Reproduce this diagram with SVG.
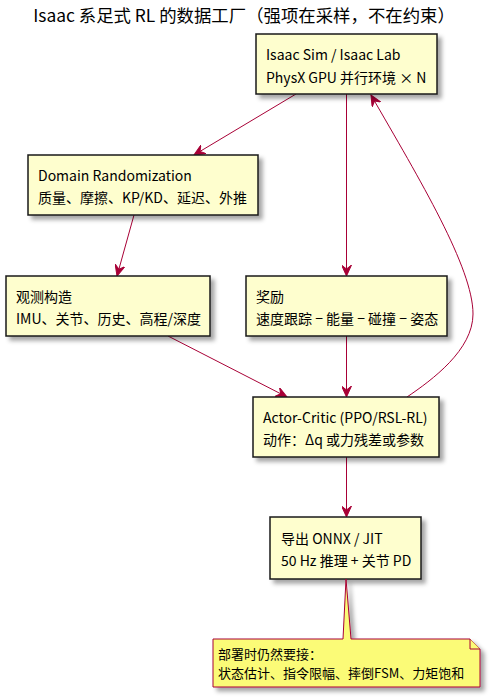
<svg xmlns="http://www.w3.org/2000/svg" width="491" height="697" viewBox="0 0 491 697">
<style>
text{font-family:"Noto Sans CJK SC","Noto Sans",sans-serif;font-size:14px;fill:#000}
.title{font-size:17.4px}
.nt{font-size:13px}
.box{fill:#FEFECE;stroke:#181818;stroke-width:1.5}
.note{fill:#FBFB77;stroke:#A80036;stroke-width:1}
.edge{fill:none;stroke:#A80036;stroke-width:1}
</style>
<defs>
<filter id="sh" x="-10%" y="-10%" width="130%" height="140%">
<feGaussianBlur in="SourceAlpha" stdDeviation="2"/>
<feOffset dx="4" dy="4" result="b"/>
<feColorMatrix in="b" type="matrix" values="0 0 0 0 0 0 0 0 0 0 0 0 0 0 0 0 0 0 0.35 0" result="c"/>
<feMerge><feMergeNode in="c"/><feMergeNode in="SourceGraphic"/></feMerge>
</filter>
<marker id="ah" viewBox="0 0 12 10" refX="11" refY="5" markerWidth="12" markerHeight="10" markerUnits="userSpaceOnUse" orient="auto">
<path d="M0,0 L11,5 L0,10 L4,5 Z" fill="#A80036" stroke="#A80036" stroke-width="1"/>
</marker>
</defs>
<rect width="491" height="697" fill="#FFFFFF"/>
<text class="title" x="244" y="22" text-anchor="middle">Isaac 系足式 RL 的数据工厂（强项在采样，不在约束）</text>

<g id="connectors">
<path class="edge" d="M296,94 L194,155" marker-end="url(#ah)"/>
<path class="edge" d="M346.5,94 L346.5,276" marker-end="url(#ah)"/>
<path class="edge" d="M134,215 L117,276" marker-end="url(#ah)"/>
<path class="edge" d="M168,336 L287,397" marker-end="url(#ah)"/>
<path class="edge" d="M346.5,336 L346.5,397" marker-end="url(#ah)"/>
<path class="edge" d="M407,397 C432,380 473,350 473,314 C473,268 420,180 371,95" marker-end="url(#ah)"/>
<path class="edge" d="M346.5,457 L346.5,517" marker-end="url(#ah)"/>
</g>

<g id="isaac">
<rect class="box" x="256" y="34" width="181" height="60" filter="url(#sh)"/>
<text x="266" y="60">Isaac Sim / Isaac Lab</text>
<text x="266" y="83">PhysX GPU 并行环境 × N</text>
</g>
<g id="domain">
<rect class="box" x="28" y="155" width="230" height="60" filter="url(#sh)"/>
<text x="38" y="181">Domain Randomization</text>
<text x="38" y="203">质量、摩擦、KP/KD、延迟、外推</text>
</g>
<g id="obs">
<rect class="box" x="6" y="276" width="204" height="60" filter="url(#sh)"/>
<text x="16" y="302">观测构造</text>
<text x="16" y="324">IMU、关节、历史、高程/深度</text>
</g>
<g id="reward">
<rect class="box" x="246" y="276" width="201" height="60" filter="url(#sh)"/>
<text x="256" y="302">奖励</text>
<text x="256" y="324">速度跟踪 − 能量 − 碰撞 − 姿态</text>
</g>
<g id="actor">
<rect class="box" x="253" y="397" width="186" height="60" filter="url(#sh)"/>
<text x="263" y="423">Actor-Critic (PPO/RSL-RL)</text>
<text x="263" y="445">动作：Δq 或力残差或参数</text>
</g>
<g id="export">
<rect class="box" x="270" y="517" width="151" height="62" filter="url(#sh)"/>
<text x="281" y="544">导出 ONNX / JIT</text>
<text x="281" y="566">50 Hz 推理 + 关节 PD</text>
</g>
<g id="note">
<path class="note" d="M213,639 L343,639 L346,579 L351,639 L470,639 L480,649 L480,687 L213,687 Z" filter="url(#sh)"/>
<path class="note" d="M470,639 L470,649 L480,649"/>
<text class="nt" x="218" y="659">部署时仍然要接：</text>
<text class="nt" x="218" y="678">状态估计、指令限幅、摔倒FSM、力矩饱和</text>
</g>
</svg>
